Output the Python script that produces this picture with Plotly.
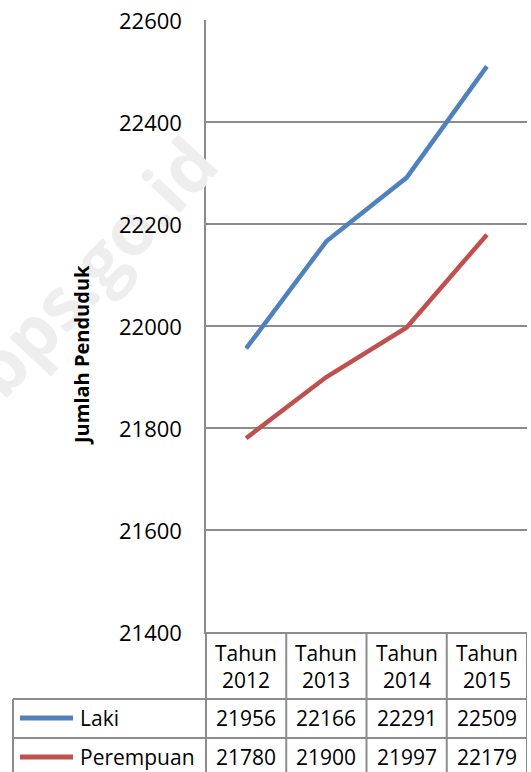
import plotly.graph_objects as go

# ---------------- data ----------------
years = ["2012", "2013", "2014", "2015"]
categories = [f"Tahun {y}" for y in years]
laki = [21956, 22166, 22291, 22509]
perempuan = [21780, 21900, 21997, 22179]
series_names = ["Laki", "Perempuan"]
series_values = [laki, perempuan]
y_ticks = [21400, 21600, 21800, 22000, 22200, 22400, 22600]
y_title = "Jumlah Penduduk"
watermark = "bps.go.id"

# ---------------- styles ----------------
colors = ["#4F81BD", "#C0504D"]
grid_col = "#8c8c8c"
FONT = "Open Sans"
W, H = 531, 772
L, R, T, B = 206, 527, 20, 632  # plot area in pixels


def px(x):
    return (x - L) / (R - L)


def py(y):
    return (B - y) / (B - T)


fig = go.Figure()
for name, vals, col in zip(series_names, series_values, colors):
    fig.add_trace(go.Scatter(x=categories, y=vals, name=name, mode="lines",
                             line=dict(color=col, width=4.5),
                             hoverinfo="skip", showlegend=False))

shapes = []
for v in y_ticks[1:-1]:
    shapes.append(dict(type="line", xref="paper", yref="y", x0=0, x1=1, y0=v, y1=v,
                       line=dict(color=grid_col, width=2), layer="below"))

line_style = dict(color=grid_col, width=2)
shapes.append(dict(type="line", xref="paper", yref="paper", x0=0, x1=0,
                   y0=py(B), y1=py(H + 10), line=line_style))
for i in range(len(categories)):
    shapes.append(dict(type="line", xref="x", yref="paper", x0=i + 0.5, x1=i + 0.5,
                       y0=py(B), y1=py(H + 10), line=line_style))
for yy in (699, 738):
    shapes.append(dict(type="line", xref="paper", yref="paper", x0=px(13), x1=1,
                       y0=py(yy), y1=py(yy), line=line_style))
shapes.append(dict(type="line", xref="paper", yref="paper", x0=px(13), x1=px(13),
                   y0=py(699), y1=py(H + 10), line=line_style))

annotations = []


def ann(text, x, y, xref="paper", yref="paper", size=21, xanchor="center", **kw):
    d = dict(text=text, xref=xref, yref=yref, x=x, y=y, showarrow=False,
             xanchor=xanchor, yanchor="middle",
             font=kw.pop("font", dict(family=FONT, size=size, color="black")))
    d.update(kw)
    annotations.append(d)


# watermark (drawn first so everything else sits on top of it)
ann(watermark, px(92), py(266), textangle=-47,
    font=dict(family=FONT, size=72, color="#eeeeee", weight="bold"))
# y tick labels
for v in y_ticks:
    ann(str(v), px(184), v, yref="y", xanchor="right", size=22)
# axis title
ann(f"<b>{y_title}</b>", px(81), py(355), textangle=-90,
    font=dict(family=FONT, size=20, color="black"))
# header row
for c, y in zip(categories, years):
    ann(f"Tahun<br>{y}", c, py(666), xref="x")
# data rows
row_centers = [718, 757]
for name, vals, col, rc in zip(series_names, series_values, colors, row_centers):
    shapes.append(dict(type="line", xref="paper", yref="paper", x0=px(20), x1=px(73),
                       y0=py(rc), y1=py(rc), line=dict(color=col, width=5)))
    ann(name, px(78), py(rc), xanchor="left")
    for c, v in zip(categories, vals):
        ann(str(v), c, py(rc), xref="x")

fig.update_layout(
    width=W, height=H,
    margin=dict(l=L, r=W - R, t=T, b=H - B, pad=0),
    paper_bgcolor="white", plot_bgcolor="white",
    showlegend=False,
    shapes=shapes, annotations=annotations,
    xaxis=dict(type="category", range=[-0.5, len(categories) - 0.5],
               showgrid=False, showticklabels=False, ticks="",
               showline=True, linecolor=grid_col, linewidth=2, zeroline=False, fixedrange=True),
    yaxis=dict(range=[y_ticks[0], y_ticks[-1]], tickvals=y_ticks,
               showticklabels=False,
               showgrid=False, zeroline=False, showline=True, linecolor=grid_col, linewidth=2,
               ticks="", fixedrange=True),
)

fig.write_html("out.html", config={"displayModeBar": False})
